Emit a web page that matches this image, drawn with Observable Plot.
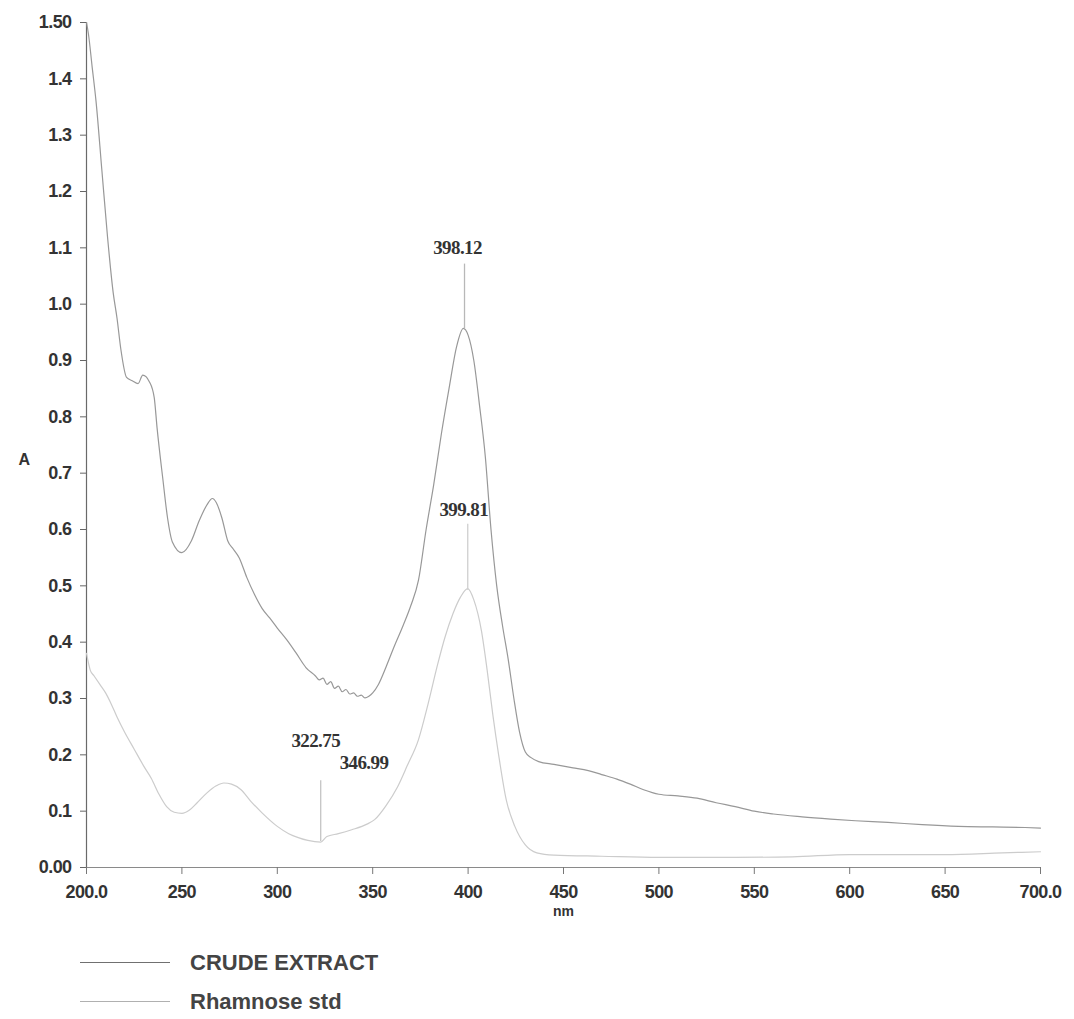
<!DOCTYPE html>
<html>
<head>
<meta charset="utf-8">
<script src="https://cdn.jsdelivr.net/npm/d3@7"></script>
<script src="https://cdn.jsdelivr.net/npm/@observablehq/plot@0.6"></script>
<style>
  html, body { margin: 0; padding: 0; background: #fff; }
  #wrap { position: relative; width: 1074px; height: 1019px; overflow: hidden; }
  #legend { position: absolute; left: 0; top: 930px; width: 1074px; height: 89px; }
  .lg-row { position: absolute; left: 0; height: 26px; display: block; }
  .lg-line { position: absolute; left: 80px; top: 12px; width: 90px; height: 0; border-top-style: solid; }
  .lg-text { position: absolute; left: 190px; top: 0; line-height: 26px; white-space: nowrap;
             font-family: "Liberation Sans", Arial, sans-serif; font-weight: bold; font-size: 22px; color: #444; }
</style>
</head>
<body>
<div id="wrap"><div id="chart"></div><div id="legend"></div></div>
<script>
// ---- Data ----
const seriesNames = ["CRUDE EXTRACT", "Rhamnose std"];
const seriesColors = ["#989898", "#cccccc"];
const legendColors = ["#707070", "#b0b0b0"];

const crudeNm = [200, 201, 203, 205, 208, 211, 214, 216, 218, 221, 224, 227, 229.5, 233, 235.5, 237, 240, 242.5, 245, 250,
  255, 259, 263, 266, 268, 271, 274, 277, 280, 284, 288, 292, 296, 300, 305, 310, 315, 320, 322, 324,
  326, 328, 330, 332, 334, 336, 338, 340, 342, 344, 346, 348, 350, 353, 357, 361, 366, 370, 374, 378,
  382, 386, 390, 394, 397.5, 400, 403, 406, 409, 412, 415, 418, 421, 424, 427, 430, 433, 437, 445, 455,
  463, 470, 478, 485, 492, 500, 510, 520, 530, 540, 550, 560, 575, 590, 603, 620, 638, 657, 675, 692, 700];
const crudeA = [1.50, 1.48, 1.42, 1.36, 1.24, 1.12, 1.02, 0.975, 0.92, 0.87, 0.864, 0.859, 0.874, 0.862, 0.834, 0.78, 0.69, 0.62, 0.578, 0.559,
  0.58, 0.615, 0.643, 0.655, 0.648, 0.62, 0.58, 0.565, 0.55, 0.515, 0.485, 0.46, 0.443, 0.425, 0.404, 0.38, 0.355, 0.34, 0.333, 0.336,
  0.325, 0.33, 0.318, 0.322, 0.312, 0.316, 0.308, 0.31, 0.304, 0.306, 0.301, 0.304, 0.31, 0.325, 0.356, 0.39, 0.43, 0.465, 0.51, 0.60,
  0.68, 0.77, 0.85, 0.925, 0.957, 0.945, 0.90, 0.82, 0.73, 0.60, 0.50, 0.43, 0.37, 0.30, 0.24, 0.205, 0.195, 0.188, 0.183, 0.177,
  0.172, 0.165, 0.157, 0.148, 0.138, 0.13, 0.127, 0.123, 0.115, 0.108, 0.10, 0.095, 0.09, 0.086, 0.083, 0.08, 0.076, 0.073, 0.072, 0.071, 0.07];

const rhamNm = [200, 202, 204, 207, 210, 213, 216, 220, 225, 230, 234, 238, 242, 246, 250, 254, 258, 263, 268, 272,
  276, 281, 286, 292, 300, 306, 311, 316, 322.75, 326, 332, 339, 347, 351, 357, 363, 368, 374, 379, 384,
  388, 392, 396, 399.8, 403, 407, 410, 413, 416, 420, 424.5, 430, 436, 445, 470, 500, 540, 570, 600, 650, 680, 700];
const rhamA = [0.38, 0.35, 0.34, 0.325, 0.31, 0.29, 0.267, 0.24, 0.21, 0.18, 0.158, 0.13, 0.108, 0.098, 0.096, 0.102, 0.115, 0.132, 0.145, 0.15,
  0.148, 0.138, 0.118, 0.097, 0.073, 0.06, 0.053, 0.048, 0.045, 0.055, 0.06, 0.067, 0.077, 0.085, 0.11, 0.143, 0.18, 0.227, 0.29, 0.36,
  0.41, 0.45, 0.48, 0.495, 0.475, 0.42, 0.35, 0.27, 0.20, 0.12, 0.073, 0.04, 0.026, 0.022, 0.02, 0.018, 0.018, 0.019, 0.023, 0.023, 0.026, 0.028];

// Peak annotations (wavelength label, label height, marker top / bottom in A units)
const peakLabels = ["398.12", "399.81", "322.75", "346.99"];
const peakNm = [398.12, 399.81, 322.75, 346.99];
const peakLabelA = [1.099, 0.634, 0.225, 0.185];
const peakTopA = [1.072, 0.610, 0.155, null];
const peakBottomA = [0.957, 0.493, 0.047, null];
const peakDx = [-7, -4, -5, -3];
const peakColors = ["#b8b8b8", "#cfcfcf", "#c4c4c4", null];

// Axis ticks
const xTickValues = [200, 250, 300, 350, 400, 450, 500, 550, 600, 650, 700];
const xTickLabels = ["200.0", "250", "300", "350", "400", "450", "500", "550", "600", "650", "700.0"];
const yTickValues = [0, 0.1, 0.2, 0.3, 0.4, 0.5, 0.6, 0.7, 0.8, 0.9, 1.0, 1.1, 1.2, 1.3, 1.4, 1.5];
const yTickLabels = ["0.00", "0.1", "0.2", "0.3", "0.4", "0.5", "0.6", "0.7", "0.8", "0.9", "1.0", "1.1", "1.2", "1.3", "1.4", "1.50"];
const xLabel = "nm";
const yLabel = "A";

// ---- Build tables ----
const crude = crudeNm.map((nm, i) => ({nm, A: crudeA[i], series: seriesNames[0]}));
const rham = rhamNm.map((nm, i) => ({nm, A: rhamA[i], series: seriesNames[1]}));
const peaks = peakLabels.map((label, i) => ({label, nm: peakNm[i], la: peakLabelA[i], top: peakTopA[i], bottom: peakBottomA[i], color: peakColors[i]}));
const markers = peaks.filter(d => d.top != null);

const xFmt = v => xTickLabels[xTickValues.indexOf(v)];
const yFmt = v => yTickLabels[yTickValues.findIndex(t => Math.abs(t - v) < 1e-9)];

const chart = Plot.plot({
  width: 1074,
  height: 930,
  marginLeft: 86,
  marginRight: 34,
  marginTop: 22,
  marginBottom: 63,
  style: {fontFamily: "'Liberation Sans', Arial, sans-serif", fontSize: "18px", color: "#333", background: "#fff"},
  x: {domain: [200, 700]},
  y: {domain: [0, 1.5]},
  marks: [
    Plot.ruleX([200], {stroke: "#6a6a6a", strokeWidth: 1.2}),
    Plot.ruleY([0], {stroke: "#8a8a8a", strokeWidth: 1.2}),
    Plot.axisY({ticks: yTickValues, tickFormat: yFmt, tickSize: 6, tickPadding: 9, label: null, fontWeight: "bold", stroke: "#666", fill: "#333"}),
    Plot.axisX({ticks: xTickValues, tickFormat: xFmt, tickSize: 7, tickPadding: 11, label: null, fontWeight: "bold", stroke: "#777", fill: "#333"}),
    Plot.text([yLabel], {frameAnchor: "left", dx: -68, dy: 15, fontWeight: "bold", fontSize: 16, fill: "#333"}),
    Plot.text([xLabel], {frameAnchor: "bottom", dy: 48, fontWeight: "bold", fontSize: 14, fill: "#333"}),
    Plot.line(rham, {x: "nm", y: "A", stroke: seriesColors[1], strokeWidth: 1.2, curve: "monotone-x"}),
    Plot.line(crude, {x: "nm", y: "A", stroke: seriesColors[0], strokeWidth: 1.2, curve: "monotone-x"}),
    Plot.link(markers, {x1: "nm", x2: "nm", y1: "top", y2: "bottom", stroke: "color", strokeWidth: 1.3}),
    Plot.text(peaks, {x: "nm", y: "la", text: "label", fontFamily: "'Liberation Serif', 'Times New Roman', serif", fontWeight: "bold", fontSize: 19, fill: "#333"})
  ]
});

document.getElementById("chart").appendChild(chart);
const svg = d3.select(chart);
// per-label horizontal nudges and tight spacing like the original print
svg.selectAll("text").filter(function() { return this.textContent && peakLabels.includes(this.textContent); })
  .each(function() {
    const i = peakLabels.indexOf(this.textContent);
    if (this.hasAttribute("x")) this.setAttribute("x", (+this.getAttribute("x")) + peakDx[i]);
    else {
      const t = this.getAttribute("transform") || "";
      this.setAttribute("transform", t + ` translate(${peakDx[i]},0)`);
    }
    this.setAttribute("letter-spacing", "-0.6");
  });
svg.selectAll('g[aria-label="y-axis tick label"] text, g[aria-label="x-axis tick label"] text').attr("letter-spacing", "-0.6");

// ---- Legend (below the SVG) ----
const legend = d3.select("#legend");
seriesNames.forEach((name, i) => {
  const row = legend.append("div").attr("class", "lg-row").style("top", (20 + i * 39) + "px").style("width", "600px");
  row.append("div").attr("class", "lg-line").style("border-top-color", legendColors[i]).style("border-top-width", "1.5px");
  row.append("div").attr("class", "lg-text").text(name);
});
</script>
</body>
</html>
